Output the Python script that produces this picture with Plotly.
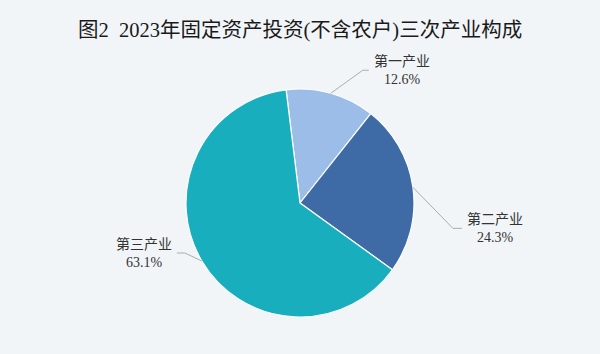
import math
import plotly.graph_objects as go

# ---- data ----
categories = ["第一产业", "第二产业", "第三产业"]
shares = [12.6, 24.3, 63.1]
title_text = "图2  2023年固定资产投资(不含农户)三次产业构成"

# ---- style ----
colors = ["#9bbde7", "#3e6ba5", "#18aebe"]
bg = "#f1f5f8"
font_family = "Liberation Serif, Noto Sans CJK SC, serif"
W, H = 600, 354
cx, cy, R = 300, 203, 114          # pie centre / radius in pixels
start_angle = -7                   # degrees clockwise from 12 o'clock
# leader-line elbow offsets (px) from edge point, horizontal tail length, label anchor
elbow_off = [(32, -23), (40, 41), (-17, -8)]
tail = [6, 9, -8]
label_gap = [3, 3, -3]

fig = go.Figure(go.Pie(
    labels=categories,
    values=shares,
    sort=False,
    direction="clockwise",
    rotation=start_angle,
    marker=dict(colors=colors, line=dict(color="white", width=1.2)),
    textinfo="none",
    hoverinfo="label+percent",
    showlegend=False,
    domain=dict(x=[(cx - R) / W, (cx + R) / W],
                y=[(H - cy - R) / H, (H - cy + R) / H]),
))

def px(x, y):
    return x / W, 1 - y / H

shapes = []
annotations = []
total = sum(shares)
acc = 0.0
for i, (cat, v) in enumerate(zip(categories, shares)):
    mid = start_angle + 360 * (acc + v / 2) / total
    acc += v
    a = math.radians(mid)
    ex, ey = cx + R * math.sin(a), cy - R * math.cos(a)
    bx, by = ex + elbow_off[i][0], ey + elbow_off[i][1]
    tx = bx + tail[i]
    p0, p1, p2 = px(ex, ey), px(bx, by), px(tx, by)
    shapes.append(dict(
        type="path", xref="paper", yref="paper",
        path=f"M {p0[0]} {p0[1]} L {p1[0]} {p1[1]} L {p2[0]} {p2[1]}",
        line=dict(color="#a8adb3", width=1),
    ))
    lx = tx + label_gap[i]
    ax, ay = px(lx, by)
    annotations.append(dict(
        x=ax, y=ay, xref="paper", yref="paper",
        text=f"{cat}<br>{v:.1f}%",
        showarrow=False,
        xanchor="left" if label_gap[i] > 0 else "right",
        yanchor="middle", align="center",
        font=dict(family=font_family, size=14, color="#333333"),
    ))

annotations.append(dict(
    x=0.5, y=1 - 30 / H, xref="paper", yref="paper",
    text=title_text, showarrow=False, xanchor="center", yanchor="middle",
    font=dict(family=font_family, size=20.5, color="#1a1a1a"),
))

fig.update_layout(
    width=W, height=H,
    margin=dict(l=0, r=0, t=0, b=0),
    paper_bgcolor=bg, plot_bgcolor=bg,
    shapes=shapes, annotations=annotations,
)

fig.write_html("out.html")
